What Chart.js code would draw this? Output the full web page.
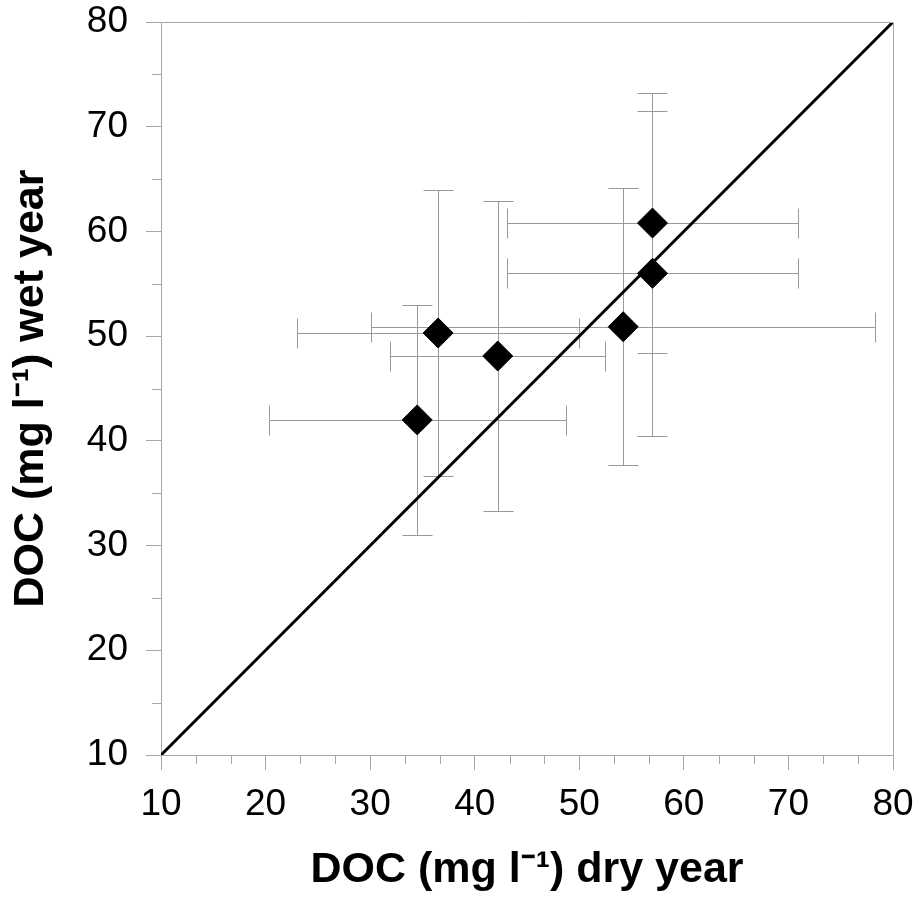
<!DOCTYPE html>
<html>
<head>
<meta charset="utf-8">
<script src="https://cdn.jsdelivr.net/npm/chart.js@4"></script>
<style>
  html, body { margin: 0; padding: 0; background: #fff; }
  #wrap { width: 917px; height: 898px; }
</style>
</head>
<body>
<div id="wrap"><canvas id="docChart" width="917" height="898"></canvas></div>
<script>
// DOC per site, dry year (x) vs wet year (y), with error bars
const dryYear = [34.5, 36.5, 42.2, 54.2, 57.0, 57.0];
const wetYear = [42.0, 50.3, 48.1, 50.9, 56.0, 60.8];
const dryErr  = [14.2, 13.5, 10.3, 24.1, 13.9, 13.9];
const wetErr  = [11.0, 13.7, 14.8, 13.2, 15.5, 12.4];
const oneToOne = [10, 80];
const axisTicks = [10, 20, 30, 40, 50, 60, 70, 80];

const xTitle = "DOC (mg l\u207B\u00B9) dry year";
const yTitle = "DOC (mg l\u207B\u00B9) wet year";

/* ========== ERROR BARS ========== */
const errorBars = {
    id: "errorBars",
    beforeDatasetsDraw(chart) {
        const ctx = chart.ctx;
        const xs = chart.scales.x, ys = chart.scales.y;
        const cap = 15;
        ctx.save();
        ctx.strokeStyle = "#999";
        ctx.lineWidth = 1;
        dryYear.forEach((dx, i) => {
            const px = Math.round(xs.getPixelForValue(dx)) + 0.5;
            const py = Math.round(ys.getPixelForValue(wetYear[i])) + 0.5;
            const x0 = Math.round(xs.getPixelForValue(dx - dryErr[i])) + 0.5;
            const x1 = Math.round(xs.getPixelForValue(dx + dryErr[i])) + 0.5;
            const y0 = Math.round(ys.getPixelForValue(wetYear[i] - wetErr[i])) + 0.5;
            const y1 = Math.round(ys.getPixelForValue(wetYear[i] + wetErr[i])) + 0.5;
            ctx.beginPath();
            ctx.moveTo(x0, py); ctx.lineTo(x1, py);
            ctx.moveTo(x0, py - cap); ctx.lineTo(x0, py + cap);
            ctx.moveTo(x1, py - cap); ctx.lineTo(x1, py + cap);
            ctx.moveTo(px, y0); ctx.lineTo(px, y1);
            ctx.moveTo(px - cap, y0); ctx.lineTo(px + cap, y0);
            ctx.moveTo(px - cap, y1); ctx.lineTo(px + cap, y1);
            ctx.stroke();
        });
        ctx.restore();
    }
};

/* ========== BOX + MINOR TICKS ========== */
const frame = {
    id: "frame",
    afterDraw(chart) {
        const ctx = chart.ctx;
        const a = chart.chartArea;
        const xs = chart.scales.x, ys = chart.scales.y;
        ctx.save();
        ctx.strokeStyle = "#a8a8a8";
        ctx.lineWidth = 1;
        ctx.beginPath();
        ctx.moveTo(a.left, a.top + 0.5); ctx.lineTo(a.right + 0.5, a.top + 0.5);
        ctx.lineTo(a.right + 0.5, a.bottom);
        ctx.stroke();
        // minor ticks: x in thirds, y in halves
        ctx.beginPath();
        for (let v = 10; v < 80; v += 10) {
            [v + 10 / 3, v + 20 / 3].forEach(m => {
                const px = Math.round(xs.getPixelForValue(m)) + 0.5;
                ctx.moveTo(px, a.bottom); ctx.lineTo(px, a.bottom + 9);
            });
            const py = Math.round(ys.getPixelForValue(v + 5)) + 0.5;
            ctx.moveTo(a.left, py); ctx.lineTo(a.left - 9, py);
        }
        ctx.stroke();
        ctx.restore();
    }
};

const tickFont = { family: "'Liberation Sans', Arial, sans-serif", size: 37 };
const titleFont = { family: "'Liberation Sans', Arial, sans-serif", size: 43, weight: "bold" };

new Chart(document.getElementById("docChart").getContext("2d"), {
    type: "scatter",
    data: {
        datasets: [
            {
                label: "1:1",
                data: oneToOne.map(v => ({ x: v, y: v })),
                showLine: true,
                borderColor: "#000",
                borderWidth: 3,
                pointRadius: 0,
                order: 2
            },
            {
                label: "sites",
                data: dryYear.map((v, i) => ({ x: v, y: wetYear[i] })),
                pointStyle: "rectRot",
                pointRadius: 15,
                backgroundColor: "#000",
                borderColor: "#000",
                order: 1
            }
        ]
    },
    plugins: [errorBars, frame],
    options: {
        responsive: false,
        animation: false,
        devicePixelRatio: 1,
        layout: { padding: { top: 22, right: 24, left: 0, bottom: 0 } },
        plugins: { legend: { display: false }, tooltip: { enabled: false } },
        scales: {
            x: {
                type: "linear",
                min: 10, max: 80,
                afterBuildTicks: s => { s.ticks = axisTicks.map(v => ({ value: v })); },
                afterFit: s => { s.height = 143; s.paddingLeft = 0; s.paddingRight = 0; },
                grid: { drawOnChartArea: false, color: "#a8a8a8", tickLength: 15 },
                border: { color: "#a8a8a8" },
                ticks: { font: tickFont, color: "#000", padding: 13, maxRotation: 0 },
                title: { display: true, text: xTitle, font: titleFont, color: "#000", padding: { bottom: 2 } }
            },
            y: {
                type: "linear",
                min: 10, max: 80,
                afterBuildTicks: s => { s.ticks = axisTicks.map(v => ({ value: v })); },
                afterFit: s => { s.width = 161; s.paddingTop = 0; s.paddingBottom = 0; },
                grid: { drawOnChartArea: false, color: "#a8a8a8", tickLength: 15 },
                border: { color: "#a8a8a8" },
                ticks: { font: tickFont, color: "#000", padding: 18 },
                title: { display: true, text: yTitle, font: titleFont, color: "#000", padding: { top: 5 } }
            }
        }
    }
});
</script>
</body>
</html>
